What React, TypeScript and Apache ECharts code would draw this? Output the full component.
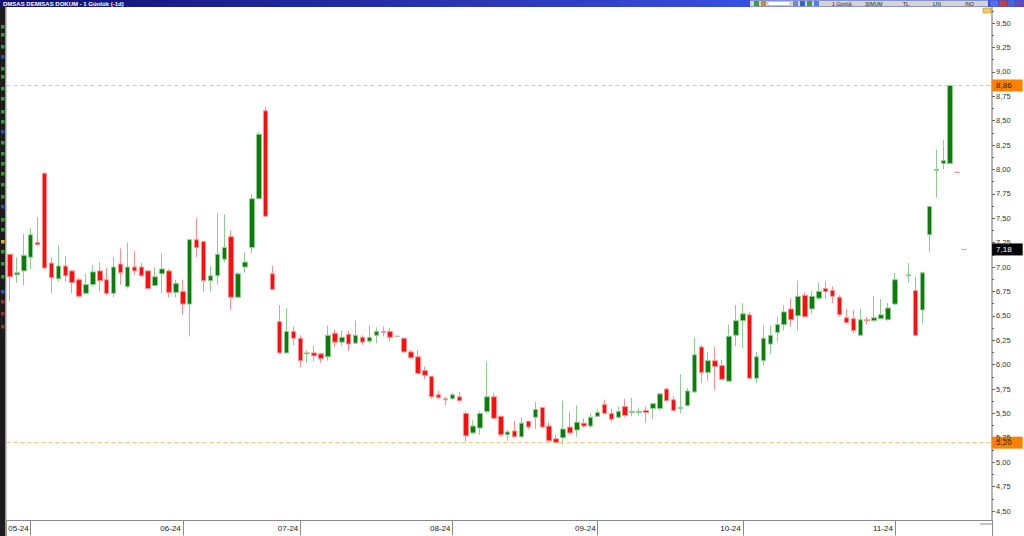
import React, { useEffect, useRef } from 'react';
import * as echarts from 'echarts';

// ---- data ----
const monthLabels = ['05-24', '06-24', '07-24', '08-24', '09-24', '10-24', '11-24'];
const monthStartIdx = [3, 25, 42, 64, 85, 106, 128];
const totalSlots = 143;

// [open, close, low, high]; null = no trade
const candles: (number[] | null)[] = [
  [7.13, 6.90, 6.65, 7.13], [6.92, 6.94, 6.84, 7.10], [6.96, 7.12, 6.81, 7.34], [7.10, 7.33, 6.98, 7.40],
  [7.25, 7.23, 7.22, 7.51], [7.96, 6.99, 6.98, 7.97], [7.04, 6.89, 6.73, 7.10], [6.88, 7.01, 6.85, 7.22],
  [7.01, 6.91, 6.85, 7.11], [6.96, 6.84, 6.73, 6.97], [6.87, 6.70, 6.69, 6.89], [6.73, 6.82, 6.72, 6.93],
  [6.82, 6.95, 6.80, 7.02], [6.96, 6.86, 6.75, 7.05], [6.87, 6.73, 6.71, 6.99], [6.73, 7.00, 6.69, 7.10],
  [7.03, 6.94, 6.82, 7.19], [6.80, 7.00, 6.78, 7.25], [7.00, 6.96, 6.92, 7.16], [7.00, 6.91, 6.90, 7.04],
  [6.96, 6.78, 6.77, 6.97], [6.81, 6.90, 6.80, 7.00], [6.93, 6.98, 6.73, 7.14], [6.96, 6.74, 6.69, 6.98],
  [6.74, 6.83, 6.69, 6.87], [6.75, 6.62, 6.51, 6.87], [6.62, 7.28, 6.29, 7.28], [7.28, 7.20, 7.10, 7.50],
  [7.26, 6.86, 6.74, 7.26], [6.86, 6.91, 6.75, 7.01], [6.91, 7.13, 6.82, 7.55], [7.08, 7.20, 7.05, 7.54],
  [7.31, 6.69, 6.56, 7.37], [6.69, 6.93, 6.69, 6.95], [7.00, 7.05, 6.94, 7.15], [7.20, 7.70, 7.14, 7.75],
  [7.70, 8.36, 7.70, 8.38], [8.60, 7.52, 7.52, 8.64], [6.93, 6.77, 6.77, 7.01], [6.44, 6.12, 6.12, 6.61],
  [6.12, 6.34, 6.12, 6.58], [6.34, 6.27, 6.20, 6.39], [6.27, 6.04, 5.97, 6.30], [6.11, 6.12, 6.02, 6.15],
  [6.12, 6.09, 6.03, 6.19], [6.11, 6.06, 6.02, 6.12], [6.08, 6.30, 6.04, 6.40], [6.32, 6.23, 6.18, 6.36],
  [6.23, 6.28, 6.19, 6.35], [6.31, 6.21, 6.14, 6.35], [6.22, 6.30, 6.22, 6.45], [6.28, 6.23, 6.20, 6.30],
  [6.24, 6.28, 6.22, 6.40], [6.30, 6.34, 6.22, 6.38], [6.34, 6.33, 6.29, 6.39], [6.34, 6.28, 6.24, 6.37],
  [6.29, 6.29, 6.29, 6.29], [6.27, 6.13, 6.12, 6.28], [6.13, 6.07, 6.06, 6.15], [6.08, 5.91, 5.91, 6.15],
  [5.94, 5.89, 5.85, 5.98], [5.88, 5.67, 5.65, 5.88], [5.69, 5.66, 5.65, 5.73], [5.65, 5.64, 5.58, 5.67],
  [5.65, 5.69, 5.64, 5.71], [5.67, 5.63, 5.62, 5.72], [5.50, 5.27, 5.21, 5.52], [5.30, 5.37, 5.29, 5.43],
  [5.35, 5.50, 5.28, 5.52], [5.52, 5.67, 5.50, 6.03], [5.67, 5.45, 5.45, 5.71], [5.47, 5.28, 5.26, 5.47],
  [5.28, 5.31, 5.22, 5.33], [5.32, 5.26, 5.26, 5.42], [5.26, 5.40, 5.25, 5.46], [5.42, 5.36, 5.34, 5.42],
  [5.46, 5.54, 5.34, 5.62], [5.56, 5.36, 5.36, 5.56], [5.37, 5.22, 5.20, 5.41], [5.24, 5.20, 5.19, 5.28],
  [5.25, 5.34, 5.18, 5.63], [5.36, 5.30, 5.28, 5.52], [5.33, 5.41, 5.26, 5.58], [5.40, 5.37, 5.35, 5.45],
  [5.37, 5.46, 5.35, 5.50], [5.47, 5.51, 5.46, 5.54], [5.59, 5.50, 5.49, 5.64], [5.50, 5.44, 5.41, 5.55],
  [5.46, 5.52, 5.45, 5.57], [5.57, 5.48, 5.46, 5.65], [5.51, 5.52, 5.47, 5.66], [5.51, 5.52, 5.48, 5.56],
  [5.53, 5.51, 5.40, 5.57], [5.55, 5.60, 5.44, 5.60], [5.55, 5.70, 5.53, 5.71], [5.75, 5.63, 5.63, 5.76],
  [5.64, 5.53, 5.52, 5.68], [5.55, 5.56, 5.50, 5.90], [5.58, 5.73, 5.57, 5.76], [5.72, 6.10, 5.71, 6.28],
  [6.18, 5.92, 5.81, 6.20], [5.92, 6.04, 5.83, 6.13], [6.04, 5.98, 5.74, 6.18], [5.99, 5.85, 5.85, 6.05],
  [5.83, 6.29, 5.82, 6.41], [6.30, 6.45, 6.19, 6.61], [6.45, 6.52, 6.17, 6.63], [6.51, 5.86, 5.86, 6.54],
  [5.86, 6.08, 5.81, 6.13], [6.04, 6.27, 5.99, 6.40], [6.21, 6.30, 6.11, 6.40], [6.33, 6.41, 6.23, 6.49],
  [6.41, 6.54, 6.35, 6.61], [6.57, 6.46, 6.39, 6.68], [6.50, 6.70, 6.35, 6.86], [6.71, 6.49, 6.49, 6.74],
  [6.57, 6.70, 6.52, 6.75], [6.68, 6.75, 6.66, 6.84], [6.78, 6.75, 6.68, 6.85], [6.76, 6.70, 6.63, 6.80],
  [6.69, 6.51, 6.49, 6.71], [6.48, 6.43, 6.42, 6.57], [6.47, 6.35, 6.32, 6.56], [6.30, 6.46, 6.30, 6.57],
  [6.46, 6.45, 6.41, 6.49], [6.45, 6.48, 6.44, 6.70], [6.47, 6.51, 6.47, 6.67], [6.46, 6.58, 6.45, 6.63],
  [6.62, 6.87, 6.61, 6.94], null, [6.91, 6.92, 6.84, 7.04], [6.76, 6.30, 6.30, 6.90],
  [6.56, 6.94, 6.42, 6.94], [7.33, 7.62, 7.15, 7.63], [7.99, 8.00, 7.71, 8.20], [8.06, 8.09, 8.00, 8.30],
  [8.06, 8.86, 8.06, 8.86],
];
const flatIdx = [56];
const indicatorMarks = [7.97, 7.18];
const levelLines = [8.86, 5.2];
const indicatorLast = 7.18;
const yMin = 4.25;
const yMax = 9.75;
const yStep = 0.25;
const yLabelMin = 4.5;
const yLabelMax = 9.5;

const titleText = 'DMSAS DEMISAS DOKUM - 1 Günlük (-1d)';
const toolbarTexts = [
  { t: '1 Günlük', x: 832 },
  { t: '30MUM', x: 865 },
  { t: 'TL', x: 903 },
  { t: 'LIN', x: 933 },
  { t: 'INO', x: 965 },
];
const leftIcons = [25, 33, 45, 55, 67, 75, 87, 97, 110, 120, 130, 141, 152, 162, 172, 183, 195, 205, 218, 228, 240, 250, 262, 275, 290, 300, 312, 325];

const fmt = (v: number) => v.toFixed(2).replace('.', ',');

export default function App() {
  const ref = useRef<HTMLDivElement>(null);
  useEffect(() => {
    if (!ref.current) return;
    const chart = echarts.init(ref.current, undefined, { renderer: 'svg' });
    const categories = Array.from({ length: totalSlots }, (_, i) => {
      const k = monthStartIdx.indexOf(i);
      return k >= 0 ? monthLabels[k] : 'd' + i;
    });
    const gray = '#b4b4b4';
    const pink = '#ff9c9c';
    const styleOf = (c: string) => ({ color: c, color0: c, borderColor: c, borderColor0: c, borderColorDoji: c });
    const data: any[] = [];
    candles.forEach((c, i) => {
      if (!c) data.push(['-', '-', '-', '-']);
      else if (flatIdx.includes(i)) data.push({ value: c, itemStyle: styleOf(gray) });
      else data.push(c);
    });
    indicatorMarks.forEach((m) => data.push({ value: [m, m, m, m], itemStyle: styleOf(pink) }));

    const isMonth = (i: number) => monthStartIdx.includes(i);
    const levelLabel = {
      show: true,
      position: 'end',
      distance: -3,
      formatter: (p: any) => fmt(p.value),
      backgroundColor: '#ff8000',
      color: '#1a1a1a',
      fontSize: 8,
      fontFamily: 'Liberation Sans, Arial, sans-serif',
      lineHeight: 10,
      padding: [1, 11, 1, 4],
    };

    const graphics: any[] = [
      // title bar
      {
        type: 'rect', z: 100, shape: { x: 0, y: 0, width: 1024, height: 7 },
        style: {
          fill: new echarts.graphic.LinearGradient(0, 0, 1, 0, [
            { offset: 0, color: '#10106e' },
            { offset: 0.4, color: '#2630aa' },
            { offset: 0.73, color: '#3650e0' },
            { offset: 1, color: '#3650e0' },
          ]),
        },
      },
      {
        type: 'text', z: 101, x: 3, y: 3.6,
        style: { text: titleText, fill: '#ffffff', font: 'bold 6px Liberation Sans, Arial, sans-serif', verticalAlign: 'middle' },
      },
      { type: 'rect', z: 101, shape: { x: 750, y: 0.5, width: 238, height: 6 }, style: { fill: '#d6d3cc' } },
      { type: 'rect', z: 102, shape: { x: 754, y: 1, width: 5, height: 5 }, style: { fill: '#3c9c3c' } },
      { type: 'rect', z: 102, shape: { x: 761, y: 1, width: 5, height: 5 }, style: { fill: '#d08a20' } },
      { type: 'rect', z: 102, shape: { x: 768, y: 1.5, width: 22, height: 4 }, style: { fill: '#ffffff', stroke: '#999', lineWidth: 0.5 } },
      { type: 'rect', z: 102, shape: { x: 793, y: 1, width: 5, height: 5 }, style: { fill: '#6a8fd0' } },
      { type: 'rect', z: 102, shape: { x: 800, y: 1, width: 5, height: 5 }, style: { fill: '#4060c0' } },
      { type: 'rect', z: 102, shape: { x: 807, y: 1, width: 5, height: 5 }, style: { fill: '#40a040' } },
      { type: 'rect', z: 102, shape: { x: 814, y: 1, width: 5, height: 5 }, style: { fill: '#5080e0' } },
      ...toolbarTexts.map((o) => ({
        type: 'text', z: 103, x: o.x, y: 3.6,
        style: { text: o.t, fill: '#222', font: '5px Liberation Sans, Arial, sans-serif', verticalAlign: 'middle' },
      })),
      { type: 'rect', z: 102, shape: { x: 990, y: 0.5, width: 8, height: 6 }, style: { fill: '#5a6ee0' } },
      { type: 'rect', z: 102, shape: { x: 999, y: 0.5, width: 8, height: 6 }, style: { fill: '#c24040' } },
      { type: 'rect', z: 102, shape: { x: 1008, y: 0.5, width: 7, height: 6 }, style: { fill: '#4a64d8' } },
      { type: 'rect', z: 102, shape: { x: 1016, y: 0.5, width: 7, height: 6 }, style: { fill: '#6a4ab0' } },
      // small yellow marker below bar
      { type: 'rect', z: 100, shape: { x: 983, y: 8, width: 8, height: 5 }, style: { fill: '#f0d060', stroke: '#a08020', lineWidth: 0.5 } },
      // left toolbar
      { type: 'rect', z: 100, shape: { x: 0, y: 7, width: 5.5, height: 529 }, style: { fill: '#1c1c1c' } },
      { type: 'rect', z: 100, shape: { x: 5.5, y: 7, width: 1, height: 529 }, style: { fill: '#9a9a9a' } },
      ...leftIcons.map((y, k) => ({
        type: 'rect', z: 101, shape: { x: 1, y, width: 3.5, height: 3.5 },
        style: { fill: k === 20 ? '#e8b020' : k % 7 === 3 ? '#3050c0' : k > 23 ? '#a03030' : '#30a030' },
      })),
      // date strip
      { type: 'rect', z: 50, shape: { x: 6.5, y: 520.5, width: 986, height: 16 }, style: { fill: '#ffffff', stroke: '#8a8a8a', lineWidth: 1 } },
      { type: 'rect', z: 50, shape: { x: 993, y: 521, width: 31, height: 15 }, style: { fill: '#ffffff' } },
      { type: 'line', z: 51, shape: { x1: 980, y1: 524, x2: 993, y2: 524 }, style: { stroke: '#888', lineWidth: 1 } },
    ];

    chart.setOption({
      animation: false,
      backgroundColor: '#ffffff',
      grid: { left: 6.5, width: 988.6, top: -1.4, height: 536.8, outerBoundsMode: 'none', containLabel: false },
      xAxis: {
        type: 'category',
        data: categories,
        boundaryGap: true,
        offset: -14.9,
        z: 60,
        axisLine: { show: false },
        axisTick: { show: true, alignWithLabel: true, length: 15, interval: (i: number) => isMonth(i), lineStyle: { color: '#8a8a8a' } },
        axisLabel: {
          interval: (i: number) => isMonth(i),
          align: 'right',
          margin: 4,
          fontSize: 8,
          color: '#222',
          fontFamily: 'Liberation Sans, Arial, sans-serif',
          padding: [0, 2, 0, 0],
        },
        splitLine: { show: false },
      },
      yAxis: {
        type: 'value',
        position: 'right',
        min: yMin,
        max: yMax,
        interval: yStep,
        offset: -3.1,
        z: 5,
        axisLine: { show: true, lineStyle: { color: '#9a9a9a', width: 1.5 } },
        axisTick: { show: true, length: 3, lineStyle: { color: '#666' } },
        minorTick: { show: true, splitNumber: 2, length: 2, lineStyle: { color: '#666' } },
        axisLabel: {
          margin: 4,
          fontSize: 7.5,
          color: '#333',
          fontFamily: 'Liberation Sans, Arial, sans-serif',
          formatter: (v: number) => (v < yLabelMin - 1e-6 || v > yLabelMax + 1e-6 ? '' : fmt(v)),
        },
        splitLine: { show: false },
      },
      graphic: graphics,
      series: [
        {
          type: 'candlestick',
          data,
          barWidth: 5,
          clip: true,
          silent: true,
          itemStyle: {
            color: '#0a7d0a',
            color0: '#ff0d0d',
            borderColor: '#8fcc8f',
            borderColor0: '#ff8f8f',
            borderWidth: 1,
          },
          markLine: {
            silent: true,
            symbol: ['none', 'none'],
            animation: false,
            data: [
              ...levelLines.map((v) => ({
                yAxis: v,
                lineStyle: { color: '#ffbf80', type: [4, 3], width: 1 },
                label: levelLabel,
              })),
              {
                yAxis: indicatorLast,
                lineStyle: { color: 'rgba(255,255,255,0)', width: 1 },
                label: { ...levelLabel, backgroundColor: '#000000', color: '#ffffff' },
              },
            ],
          },
        },
      ],
    });
    return () => chart.dispose();
  }, []);
  return <div ref={ref} style={{ position: 'fixed', left: 0, top: 0, width: 1024, height: 536 }} />;
}
